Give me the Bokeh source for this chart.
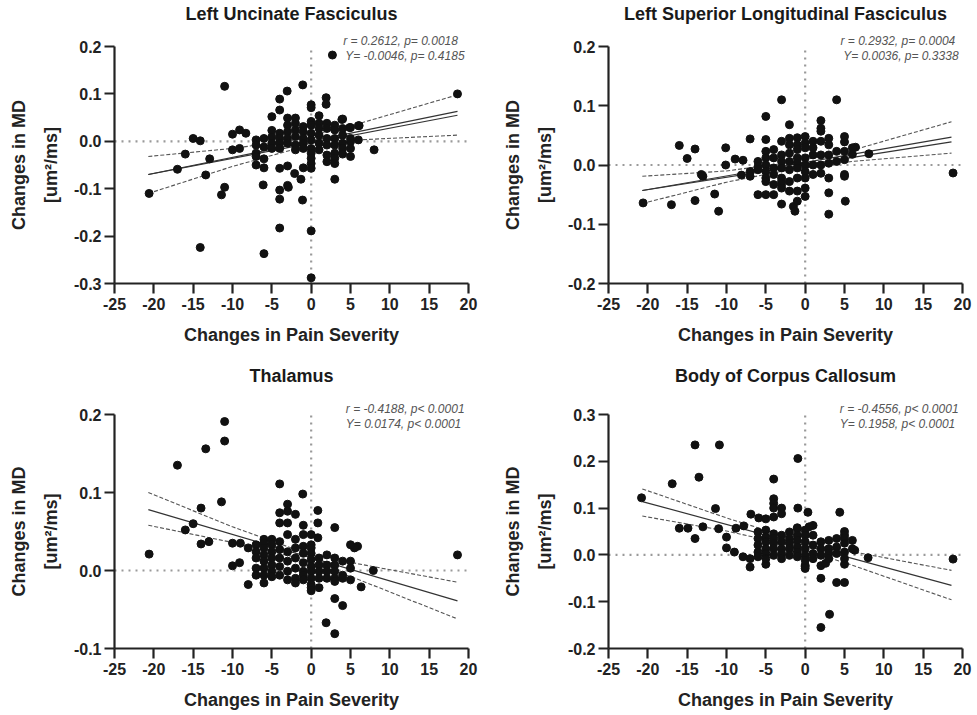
from bokeh.plotting import figure
from bokeh.layouts import column, row
from bokeh.models import Range1d, FixedTicker, Title
from bokeh.core.properties import value
from bokeh.embed import file_html
from bokeh.resources import INLINE

# ---------------- data ----------------
x_ticks = [-25, -20, -15, -10, -5, 0, 5, 10, 15, 20]
x_limits = [-25, 20]
x_label = "Changes in Pain Severity"
y_label_lines = ["Changes in MD", "[um²/ms]"]

titles = ["Left Uncinate Fasciculus", "Left Superior Longitudinal Fasciculus",
          "Thalamus", "Body of Corpus Callosum"]

stats_r = ["r = 0.2612,   p= 0.0018", "r = 0.2932,  p= 0.0004",
           "r = -0.4188, p< 0.0001", "r = -0.4556, p< 0.0001"]
stats_y = ["Y= -0.0046, p= 0.4185", "Y= 0.0036, p= 0.3338",
           "Y= 0.0174,  p< 0.0001", "Y= 0.1958,  p< 0.0001"]

y_ticks_uncinate = [-0.3, -0.2, -0.1, 0.0, 0.1, 0.2]
y_ticks_slf = [-0.2, -0.1, 0.0, 0.1, 0.2]
y_ticks_thalamus = [-0.1, 0.0, 0.1, 0.2]
y_ticks_callosum = [-0.2, -0.1, 0.0, 0.1, 0.2, 0.3]

uncinate_points = [
    (-20.6, -0.110), (-17, -0.059), (-16, -0.027), (-15, 0.006), (-14.1, 0.001), (-14.1, -0.224),
    (-13.4, -0.071), (-12.9, -0.037), (-11, 0.116), (-11, -0.097), (-11.4, -0.113), (-10, 0.015),
    (-9.1, 0.024), (-8.3, 0.017), (-10, -0.018), (-9.1, -0.015), (-6.1, -0.092), (-6, -0.237),
    (-4, -0.103), (-4, -0.122), (-4, -0.183), (-3, -0.093), (-2.9, -0.097), (-2.1, -0.068),
    (-1.3, -0.080), (-1.1, -0.124), (-1.07, 0.119), (-3.05, 0.106), (-4, 0.089), (0, -0.189),
    (0, -0.288), (2.7, 0.182), (3, -0.080), (8, -0.018), (18.6, 0.100), (1.9, 0.092), (1.9, 0.078),
    (6.1, 0.033), (4.9, 0.029), (3.9, 0.046),
    (-7, 0.003), (-7, -0.008), (-7, -0.025), (-7, -0.032), (-7, -0.050),
    (-6, 0.006), (-6, -0.012), (-6, -0.037), (-6, -0.056),
    (-5, 0.052), (-5, 0.023), (-5, 0.009), (-5, -0.004), (-5, -0.015),
    (-4, 0.066), (-4, 0.017), (-4, 0.006), (-4, -0.004), (-4, -0.015), (-4, -0.057),
    (-3, 0.049), (-3, 0.034), (-3, 0.020), (-3, 0.006), (-3, -0.004), (-3, -0.052),
    (-2, 0.049), (-2, 0.038), (-2, 0.024), (-2, 0.010), (-2, -0.008), (-2, -0.018),
    (-1, 0.031), (-1, 0.020), (-1, 0.006), (-1, -0.004), (-1, -0.015), (-1, -0.056),
    (0, 0.077), (0, 0.071), (0, 0.042), (0, 0.034), (0, 0.017), (0, 0.003), (0, -0.015),
    (0, -0.025), (0, -0.036), (0, -0.047), (0, -0.057),
    (1, 0.054), (1, 0.038), (1, 0.027), (1, 0.013), (1, -0.004), (1, -0.018),
    (2, 0.038), (2, 0.027), (2, 0.006), (2, -0.008), (2, -0.029), (2, -0.043),
    (3, 0.034), (3, 0.024), (3, 0.006), (3, -0.008), (3, -0.025), (3, -0.036), (3, -0.047),
    (4, 0.047), (4, 0.027), (4, 0.013), (4, -0.004), (4, -0.015), (4, -0.027),
    (5, 0.029), (5, 0.006), (5, -0.001), (5, -0.015), (5, -0.032),
    (6, 0.033), (6, 0.003),
]

slf_points = [
    (-20.6, -0.064), (-17, -0.067), (-16, 0.033), (-15, 0.011), (-14, 0.027), (-14, -0.060),
    (-13.2, -0.016), (-13, -0.019), (-11.5, -0.049), (-11, -0.078), (-10.1, 0.029), (-10.1, 0.000),
    (-8.9, 0.010), (-7.9, 0.008), (-8.1, -0.017), (-5, 0.082), (-3, 0.110), (4, 0.110),
    (2, 0.075), (2, 0.062), (2, 0.057), (6.4, 0.030), (8.1, 0.019), (18.8, -0.0135),
    (3, -0.083), (5.1, -0.061), (-1.5, -0.070), (-1.3, -0.078),
    (-7, 0.044), (-7, -0.011), (-7, -0.019),
    (-6, 0.006), (-6, -0.003), (-6, -0.008), (-6, -0.050),
    (-5, 0.043), (-5, 0.023), (-5, 0.012), (-5, 0.000), (-5, -0.011), (-5, -0.022), (-5, -0.028), (-5, -0.050),
    (-4, 0.026), (-4, 0.012), (-4, -0.005), (-4, -0.016), (-4, -0.033), (-4, -0.050),
    (-3, 0.040), (-3, 0.017), (-3, 0.006), (-3, -0.005), (-3, -0.022), (-3, -0.028), (-3, -0.033),
    (-3, -0.039), (-3, -0.066),
    (-2, 0.068), (-2, 0.045), (-2, 0.034), (-2, 0.020), (-2, 0.006), (-2, -0.008), (-2, -0.028), (-2, -0.044),
    (-1, 0.046), (-1, 0.034), (-1, 0.026), (-1, 0.012), (-1, 0.003), (-1, -0.005), (-1, -0.022),
    (-1, -0.044), (-1, -0.061),
    (0, 0.048), (0, 0.037), (0, 0.029), (0, 0.012), (0, 0.000), (0, -0.011), (0, -0.022), (0, -0.039), (0, -0.053),
    (1, 0.040), (1, 0.029), (1, 0.017), (1, 0.000), (1, -0.016),
    (2, 0.040), (2, 0.017), (2, 0.000), (2, -0.014),
    (3, 0.045), (3, 0.034), (3, 0.017), (3, 0.003), (3, -0.022), (3, -0.047),
    (4, 0.023), (4, 0.006),
    (5, 0.048), (5, 0.039), (5, 0.023), (5, 0.009), (5, -0.016), (5, -0.019),
    (6, 0.029), (6, 0.018),
]

thalamus_points = [
    (-20.6, 0.021), (-17, 0.135), (-16, 0.052), (-15, 0.060), (-14, 0.080), (-14, 0.034),
    (-13.4, 0.156), (-13, 0.037), (-11.4, 0.088), (-11, 0.191), (-11, 0.166), (-10, 0.035),
    (-9, 0.035), (-10, 0.006), (-9.1, 0.010), (-8, 0.029), (-8, -0.018), (-4, 0.111),
    (-1.07, 0.098), (3, 0.055), (0.85, 0.077), (0.85, 0.061), (0.85, 0.042), (5.9, 0.031),
    (5.5, 0.029), (7.9, 0.0), (6.35, -0.021), (3, -0.036), (4, -0.045), (1.9, -0.067),
    (3, -0.081), (18.6, 0.020),
    (-7, 0.033), (-7, 0.024), (-7, 0.016), (-7, 0.003), (-7, -0.006),
    (-6, 0.040), (-6, 0.035), (-6, 0.029), (-6, 0.020), (-6, 0.012), (-6, 0.003), (-6, -0.006), (-6, -0.016),
    (-5, 0.040), (-5, 0.033), (-5, 0.024), (-5, 0.016), (-5, 0.007), (-5, -0.001), (-5, -0.008),
    (-4, 0.074), (-4, 0.061), (-4, 0.037), (-4, 0.027), (-4, 0.016), (-4, 0.005), (-4, -0.006),
    (-3, 0.085), (-3, 0.076), (-3, 0.061), (-3, 0.046), (-3, 0.024), (-3, 0.012), (-3, -0.001), (-3, -0.012),
    (-2, 0.072), (-2, 0.040), (-2, 0.029), (-2, 0.016), (-2, 0.003), (-2, -0.010), (-2, -0.016),
    (-1, 0.058), (-1, 0.046), (-1, 0.031), (-1, 0.022), (-1, 0.010), (-1, -0.001), (-1, -0.006), (-1, -0.012),
    (0, 0.046), (0, 0.033), (0, 0.029), (0, 0.022), (0, 0.014), (0, 0.005), (0, -0.001), (0, -0.010),
    (0, -0.018), (0, -0.022), (0, -0.026),
    (1, 0.016), (1, 0.007), (1, -0.001), (1, -0.010), (1, -0.022),
    (2, 0.020), (2, 0.007), (2, -0.001), (2, -0.010),
    (3, 0.016), (3, 0.007), (3, -0.001), (3, -0.010), (3, -0.014),
    (4, 0.012), (4, -0.006), (4, -0.010),
    (5, 0.033), (5, 0.012), (5, 0.003), (5, -0.012),
]

callosum_points = [
    (-20.8, 0.122), (-16.9, 0.152), (-16, 0.057), (-14.9, 0.057), (-14, 0.235), (-14, 0.035),
    (-13.5, 0.166), (-13, 0.060), (-11.4, 0.099), (-11, 0.056), (-10.9, 0.235), (-10, 0.038),
    (-10, 0.015), (-9, 0.006), (-8.8, 0.057), (-7.9, -0.004), (-7.8, 0.062), (-7, -0.008),
    (-7, -0.026), (-6.9, 0.087), (-5.9, 0.079), (-5, 0.077), (-5, -0.020), (-4, 0.162),
    (-4, 0.120), (-4, 0.110), (-4, 0.100), (-4, 0.081), (-3, 0.100), (-3, 0.088),
    (-0.93, 0.206), (-0.93, 0.100), (0.35, 0.091), (4.4, 0.091), (1, 0.063), (0.5, 0.060),
    (-1, 0.058), (5, 0.050), (6.3, 0.010), (8, -0.006), (18.8, -0.009), (2, -0.050),
    (4, -0.059), (5, -0.059), (3.1, -0.127), (2, -0.155), (2, -0.023), (0, -0.022),
    (0, -0.025), (5, -0.020), (2.6, -0.018),
    (-6, 0.049), (-6, 0.035), (-6, 0.021), (-6, 0.006), (-6, -0.004),
    (-5, 0.053), (-5, 0.038), (-5, 0.028), (-5, 0.013), (-5, 0.003), (-5, -0.008),
    (-4, 0.045), (-4, 0.035), (-4, 0.025), (-4, 0.013), (-4, -0.001),
    (-3, 0.042), (-3, 0.028), (-3, 0.013), (-3, 0.003), (-3, -0.008),
    (-2, 0.049), (-2, 0.035), (-2, 0.025), (-2, 0.013), (-2, -0.001),
    (-1, 0.056), (-1, 0.042), (-1, 0.031), (-1, 0.017), (-1, 0.006), (-1, -0.004),
    (0, 0.053), (0, 0.042), (0, 0.028), (0, 0.013), (0, -0.001), (0, -0.011), (0, -0.029),
    (1, 0.042), (1, 0.021), (1, 0.003), (1, -0.008),
    (2, 0.028), (2, 0.013), (2, -0.001),
    (3, 0.031), (3, 0.013), (3, 0.003), (3, -0.008),
    (4, 0.035), (4, 0.017), (4, 0.003),
    (5, 0.042), (5, 0.035), (5, 0.025), (5, 0.006), (5, -0.008),
    (6, 0.031), (6, 0.013),
]

# regression lines (solid) and 95% bands (dashed)
fit_x = [-20.7, 18.6]
band_x = [-20.7, -10, -2, 6, 18.6]

uncinate_fit = [[-0.070, 0.063], [-0.070, 0.055]]
uncinate_upper = [-0.032, -0.015, 0.003, 0.037, 0.098]
uncinate_lower = [-0.110, -0.053, -0.016, 0.003, 0.013]

slf_fit = [[-0.043, 0.047], [-0.043, 0.039]]
slf_upper = [-0.019, -0.010, 0.004, 0.025, 0.073]
slf_lower = [-0.065, -0.029, -0.008, 0.006, 0.020]

thalamus_fit = [[0.078, -0.039]]
thalamus_upper = [0.100, 0.056, 0.027, 0.0085, -0.015]
thalamus_lower = [0.058, 0.036, 0.017, -0.0115, -0.062]

callosum_fit = [[0.114, -0.065]]
callosum_upper = [0.141, 0.079, 0.037, 0.007, -0.033]
callosum_lower = [0.083, 0.051, 0.021, -0.022, -0.096]

panels = [
    dict(title=titles[0], pts=uncinate_points, fits=uncinate_fit, up=uncinate_upper, lo=uncinate_lower,
         yt=y_ticks_uncinate, s1=stats_r[0], s2=stats_y[0]),
    dict(title=titles[1], pts=slf_points, fits=slf_fit, up=slf_upper, lo=slf_lower,
         yt=y_ticks_slf, s1=stats_r[1], s2=stats_y[1]),
    dict(title=titles[2], pts=thalamus_points, fits=thalamus_fit, up=thalamus_upper, lo=thalamus_lower,
         yt=y_ticks_thalamus, s1=stats_r[2], s2=stats_y[2]),
    dict(title=titles[3], pts=callosum_points, fits=callosum_fit, up=callosum_upper, lo=callosum_lower,
         yt=y_ticks_callosum, s1=stats_r[3], s2=stats_y[3]),
]

FONT = "Liberation Sans"
FRAME_W = 354
LABEL_PX = 18
# approximate advance widths (in em) of the two y-label lines, used to centre them on the tick span
LABEL_EM = [7.22, 4.22]


def make_panel(d, frame_w, tick_h, head_px, title_px, b_left, b_right, b_bottom):
    ymin, ymax = d["yt"][0], d["yt"][-1]
    per_px = (ymax - ymin) / tick_h
    top = ymax + head_px * per_px
    p = figure(frame_width=frame_w, frame_height=tick_h + head_px,
               x_range=Range1d(x_limits[0], x_limits[1]), y_range=Range1d(ymin, top),
               output_backend="svg", toolbar_location=None,
               min_border_left=b_left, min_border_right=b_right,
               min_border_top=0, min_border_bottom=b_bottom)
    p.outline_line_color = None
    p.grid.visible = False
    p.background_fill_color = "white"
    p.border_fill_color = "white"

    for ax in (p.xaxis[0], p.yaxis[0]):
        ax.axis_line_width = 2.2
        ax.axis_line_color = "#222222"
        ax.major_tick_line_width = 2.2
        ax.major_tick_line_color = "#222222"
        ax.major_tick_out = 10
        ax.major_tick_in = 0
        ax.minor_tick_line_color = None
        ax.major_label_text_font = FONT
        ax.major_label_text_font_size = "16px"
        ax.major_label_text_font_style = "bold"
        ax.major_label_text_color = "#222222"
        ax.axis_label_text_font = FONT
        ax.axis_label_text_font_size = f"{LABEL_PX}px"
        ax.axis_label_text_font_style = "bold"
        ax.axis_label_text_color = "#222222"

    p.xaxis.ticker = FixedTicker(ticks=x_ticks)
    p.xaxis.major_label_overrides = {t: "%d" % t for t in x_ticks}
    p.xaxis.major_label_standoff = 4
    p.xaxis.axis_label = x_label
    p.xaxis.axis_label_standoff = 12
    p.xaxis.bounds = (x_limits[0], x_limits[1])

    p.yaxis.ticker = FixedTicker(ticks=d["yt"])
    p.yaxis.major_label_overrides = {t: "%.1f" % t for t in d["yt"]}
    p.yaxis.major_label_standoff = 3
    p.yaxis.bounds = (ymin, ymax)

    # two-line y-axis label, each line centred on the tick span
    for text, em, stand, lh in ((y_label_lines[1], LABEL_EM[1], 20, 0.7),
                                (y_label_lines[0], LABEL_EM[0], 0, 1.2)):
        off = tick_h / 2 - em * LABEL_PX / 2
        p.add_layout(Title(text=text, align="left", offset=off, standoff=stand,
                           text_font=FONT, text_font_size=f"{LABEL_PX}px", text_font_style="bold",
                           text_color="#222222", text_line_height=lh), "left")

    # title (drawn inside the extended frame, above the top tick)
    p.text(x=[sum(x_limits) / 2], y=[ymax + title_px * per_px], text=[d["title"]],
           text_align="center", text_baseline="middle", text_font=value(FONT),
           text_font_size=f"{LABEL_PX}px", text_font_style="bold", text_color="#1a1a1a")

    # zero reference lines
    p.segment(x0=[x_limits[0]], y0=[0], x1=[x_limits[1]], y1=[0],
              line_color="#9a9a9a", line_width=2.2, line_dash="2 5")
    p.segment(x0=[0], y0=[ymin], x1=[0], y1=[ymax],
              line_color="#9a9a9a", line_width=2.2, line_dash="2 5")

    # confidence bands
    p.line(band_x, d["up"], line_color="#555555", line_width=1.1, line_dash="4 2")
    p.line(band_x, d["lo"], line_color="#555555", line_width=1.1, line_dash="4 2")

    # regression line(s)
    for fy in d["fits"]:
        p.line(fit_x, fy, line_color="#333333", line_width=1.2)

    xs = [a for a, b in d["pts"]]
    ys = [b for a, b in d["pts"]]
    p.scatter(xs, ys, size=8, marker="circle", fill_color="#111111", line_color="#111111")

    # statistics text
    p.text(x=[19.5, 19.5], y=[ymax + 6 * per_px, ymax - 9 * per_px], text=[d["s1"], d["s2"]],
           text_align="right", text_baseline="middle", text_font=value(FONT),
           text_font_size="12px", text_font_style="italic", text_color="#555555")
    return p


p1 = make_panel(panels[0], FRAME_W, 237, 46, 33, 114, 16, 75)
p2 = make_panel(panels[1], FRAME_W, 237, 46, 33, 124, 10, 75)
p3 = make_panel(panels[2], FRAME_W, 234, 56, 39, 114, 16, 59)
p4 = make_panel(panels[3], FRAME_W, 234, 56, 39, 124, 10, 59)

layout = column(row(p1, p2), row(p3, p4))

open("out.html", "w").write(file_html(layout, INLINE))
